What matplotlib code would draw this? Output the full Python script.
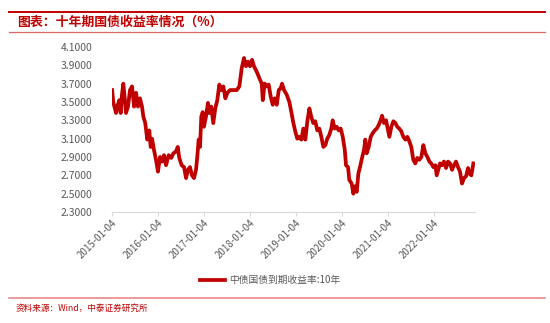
import matplotlib
matplotlib.use("Agg")
import matplotlib.pyplot as plt
import matplotlib.dates as mdates
from matplotlib.lines import Line2D
import pandas as pd

plt.rcParams['font.family'] = ['Noto Sans CJK SC', 'DejaVu Sans']

# 中债国债到期收益率:10年 (%)
dates = [
    "2015-01-05", "2015-01-14", "2015-02-05", "2015-02-15", "2015-03-03", "2015-03-14",
    "2015-03-24", "2015-04-04", "2015-04-15", "2015-04-25", "2015-05-11", "2015-05-27",
    "2015-06-12", "2015-06-28", "2015-07-14", "2015-07-29", "2015-08-14", "2015-08-30",
    "2015-09-10", "2015-09-25", "2015-10-11", "2015-10-27", "2015-11-07", "2015-11-18",
    "2015-12-03", "2015-12-19", "2016-01-04", "2016-01-20", "2016-02-05", "2016-02-21",
    "2016-03-08", "2016-03-29", "2016-04-19", "2016-05-05", "2016-05-26", "2016-06-09",
    "2016-06-21", "2016-07-10", "2016-07-29", "2016-08-14", "2016-08-29", "2016-09-14",
    "2016-09-30", "2016-10-16", "2016-11-01", "2016-11-11", "2016-11-22", "2016-12-03",
    "2016-12-13", "2016-12-24", "2017-01-03", "2017-01-19", "2017-02-04", "2017-02-15",
    "2017-03-02", "2017-03-18", "2017-04-03", "2017-04-19", "2017-05-05", "2017-05-21",
    "2017-06-06", "2017-06-22", "2017-07-08", "2017-07-29", "2017-08-24", "2017-09-20",
    "2017-10-11", "2017-10-30", "2017-11-17", "2017-12-03", "2017-12-19", "2018-01-04",
    "2018-01-20", "2018-02-04", "2018-02-26", "2018-03-19", "2018-04-07", "2018-04-15",
    "2018-04-30", "2018-05-16", "2018-06-01", "2018-06-17", "2018-07-03", "2018-07-19",
    "2018-08-04", "2018-08-20", "2018-09-04", "2018-09-15", "2018-10-01", "2018-10-22",
    "2018-11-12", "2018-11-28", "2018-12-14", "2018-12-29", "2019-01-14", "2019-01-30",
    "2019-02-15", "2019-03-03", "2019-03-19", "2019-04-04", "2019-04-20", "2019-05-05",
    "2019-05-21", "2019-06-06", "2019-06-22", "2019-07-08", "2019-07-24", "2019-08-09",
    "2019-08-25", "2019-09-09", "2019-09-25", "2019-10-11", "2019-10-22", "2019-11-07",
    "2019-11-23", "2019-12-09", "2019-12-25", "2020-01-10", "2020-01-26", "2020-02-05",
    "2020-02-21", "2020-03-02", "2020-03-21", "2020-04-03", "2020-04-16", "2020-04-30",
    "2020-05-13", "2020-05-26", "2020-06-11", "2020-06-27", "2020-07-07", "2020-07-18",
    "2020-08-03", "2020-08-19", "2020-09-04", "2020-09-20", "2020-10-06", "2020-10-22",
    "2020-11-06", "2020-11-17", "2020-12-03", "2020-12-19", "2021-01-04", "2021-01-14",
    "2021-01-30", "2021-02-15", "2021-03-03", "2021-03-18", "2021-04-03", "2021-04-19",
    "2021-05-05", "2021-05-21", "2021-06-06", "2021-06-22", "2021-07-07", "2021-07-23",
    "2021-08-08", "2021-08-24", "2021-09-09", "2021-09-25", "2021-10-11", "2021-10-27",
    "2021-11-12", "2021-11-28", "2021-12-13", "2021-12-29", "2022-01-14", "2022-01-25",
    "2022-02-10", "2022-02-20", "2022-03-08", "2022-03-24", "2022-04-09", "2022-04-25",
    "2022-05-11", "2022-05-27", "2022-06-11", "2022-06-27", "2022-07-13", "2022-07-29",
    "2022-08-14", "2022-08-30", "2022-09-15", "2022-10-01", "2022-10-11", "2022-10-27",
    "2022-11-12",
]
yields = [
    3.63, 3.50, 3.38, 3.45, 3.52, 3.38,
    3.58, 3.70, 3.54, 3.38, 3.45, 3.63,
    3.67, 3.45, 3.60, 3.45, 3.54, 3.45,
    3.34, 3.27, 3.09, 3.19, 3.01, 3.10,
    2.98, 2.87, 2.74, 2.90, 2.85, 2.92,
    2.81, 2.92, 2.89, 2.94, 2.96, 3.01,
    2.89, 2.81, 2.79, 2.67, 2.76, 2.79,
    2.70, 2.67, 2.76, 2.90, 3.09, 3.01,
    3.34, 3.39, 3.23, 3.34, 3.49, 3.38,
    3.45, 3.27, 3.43, 3.52, 3.69, 3.63,
    3.67, 3.54, 3.60, 3.63, 3.63, 3.63,
    3.67, 3.87, 3.98, 3.89, 3.94, 3.89,
    3.96, 3.89, 3.83, 3.76, 3.70, 3.52,
    3.70, 3.67, 3.69, 3.56, 3.47, 3.54,
    3.47, 3.63, 3.65, 3.70, 3.63, 3.58,
    3.50, 3.39, 3.27, 3.18, 3.10, 3.12,
    3.09, 3.21, 3.09, 3.29, 3.43, 3.34,
    3.27, 3.29, 3.19, 3.21, 3.12, 3.01,
    3.03, 3.10, 3.14, 3.21, 3.30, 3.21,
    3.23, 3.19, 3.21, 3.12, 2.98, 2.81,
    2.79, 2.65, 2.61, 2.50, 2.58, 2.52,
    2.72, 2.79, 2.89, 2.98, 3.09, 2.94,
    3.01, 3.12, 3.16, 3.19, 3.21, 3.25,
    3.30, 3.35, 3.27, 3.30, 3.19, 3.12,
    3.23, 3.29, 3.27, 3.23, 3.21, 3.18,
    3.12, 3.09, 3.12, 3.07, 3.01, 2.87,
    2.83, 2.89, 2.87, 2.90, 3.03, 2.94,
    2.90, 2.85, 2.83, 2.79, 2.81, 2.70,
    2.78, 2.83, 2.81, 2.85, 2.78, 2.85,
    2.83, 2.76, 2.81, 2.85, 2.79, 2.74,
    2.61, 2.67, 2.69, 2.78, 2.72, 2.70,
    2.83,
]
tick_dates = ["2015-01-04", "2016-01-04", "2017-01-04", "2018-01-04",
              "2019-01-04", "2020-01-04", "2021-01-04", "2022-01-04"]
y_ticks = [2.3, 2.5, 2.7, 2.9, 3.1, 3.3, 3.5, 3.7, 3.9, 4.1]

title = "图表：十年期国债收益率情况（%）"
series_name = "中债国债到期收益率:10年"
source = "资料来源：Wind，中泰证券研究所"

RED = "#C00000"
GRAY = "#595959"

W, H = 550, 323
fig = plt.figure(figsize=(W / 100, H / 100), dpi=100)
ax = fig.add_axes([112 / W, 1 - 212 / H, (475 - 112) / W, (212 - 47) / H])

x = pd.to_datetime(dates)
line, = ax.plot(x, yields, color=RED, lw=2.7, solid_joinstyle="round")

ax.set_xlim(pd.Timestamp("2015-01-04"), pd.Timestamp("2022-11-25"))
ax.set_ylim(2.3, 4.1)
ax.set_xticks(pd.to_datetime(tick_dates))
ax.xaxis.set_major_formatter(mdates.DateFormatter("%Y-%m-%d"))
ax.set_yticks(y_ticks)
ax.set_yticklabels([f"{v:.4f}" for v in y_ticks])

for side in ("top", "right", "left"):
    ax.spines[side].set_visible(False)
ax.spines["bottom"].set_color("#D9D9D9")
ax.tick_params(axis="y", length=0, pad=14, labelsize=7.5, labelcolor=GRAY)
ax.tick_params(axis="x", length=3, color="#D9D9D9", labelsize=7, labelcolor=GRAY, pad=1)
for lbl in ax.get_xticklabels():
    lbl.set_rotation(45)
    lbl.set_ha("right")
    lbl.set_rotation_mode("anchor")

# header / footer rules
fig.add_artist(Line2D([9 / W, 545 / W], [1 - 12 / H] * 2, color=RED, lw=1.4))
fig.add_artist(Line2D([9 / W, 545 / W], [1 - 32 / H] * 2, color="#E06666", lw=0.9))
fig.add_artist(Line2D([9 / W, 545 / W], [1 - 298 / H] * 2, color="#E88A8A", lw=1.2))

fig.text(17 / W, 1 - 22 / H, title, color=RED, fontsize=9.3, fontweight="bold",
         fontstyle="italic", va="center", ha="left")
fig.text(16 / W, 1 - 308 / H, source, color=RED, fontsize=6.2, va="center", ha="left")

fig.legend([line], [series_name], loc="center left", bbox_to_anchor=(200 / W, 1 - 280 / H),
           frameon=False, fontsize=7, labelcolor=GRAY, handlelength=2.6,
           handletextpad=0.35, borderpad=0, borderaxespad=0)

fig.savefig("out.png", dpi=100)
